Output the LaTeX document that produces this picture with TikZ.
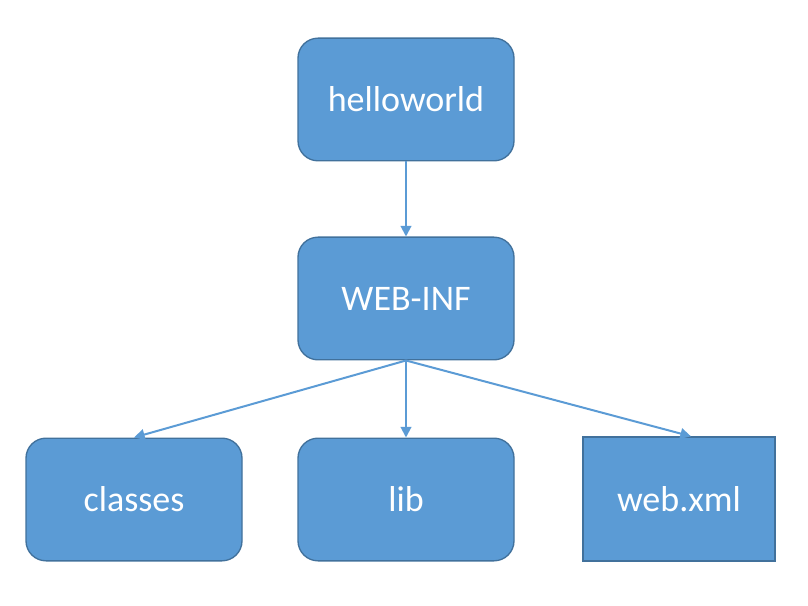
\documentclass[tikz,border=0pt]{standalone}
\usepackage{fontspec}
\setmainfont{Carlito}
\usetikzlibrary{arrows.meta}
\definecolor{boxblue}{HTML}{5B9BD5}
\definecolor{boxedge}{HTML}{41719C}
\tikzset{
    folder/.style={draw=boxedge, line width=1pt, fill=boxblue, rounded corners=15pt,
        minimum width=162pt, minimum height=92pt, text=white,
        font=\fontsize{27}{32}\selectfont},
    filebox/.style={folder, rounded corners=0pt, minimum width=144pt, minimum height=93pt},
    link/.style={draw=boxblue, line width=1.5pt, -{Triangle[length=8pt,width=8pt]}}
}
\begin{document}
\begin{tikzpicture}[x=0.75pt, y=-0.75pt]
        \useasboundingbox (0,0) rectangle (808,606);

        \node[folder] (hello) at (406,99.5) {helloworld};
        \node[folder] (webinf) at (406,298.5) {WEB-INF};
        \node[folder] (classes) at (134,499.5) {classes};
        \node[folder] (lib) at (406,499.5) {lib};
        \node[filebox] (xml) at (679,499) {web.xml};

        \draw[link] (hello) -- (webinf);
        \draw[link] (webinf.south) -- (classes.north);
        \draw[link] (webinf.south) -- (lib.north);
        \draw[link] (webinf.south) -- ([xshift=9pt]xml.north);

    \end{tikzpicture}
\end{document}
